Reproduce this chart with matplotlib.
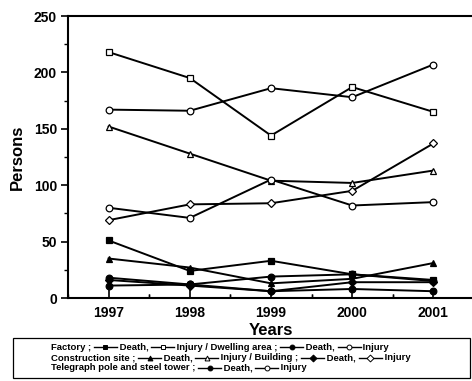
import matplotlib
matplotlib.use("Agg")
import matplotlib.pyplot as plt
from matplotlib.lines import Line2D
from matplotlib.patches import Rectangle

plt.rcParams["font.family"] = ["Liberation Sans", "DejaVu Sans"]
plt.rcParams["font.weight"] = "bold"

years = [1997, 1998, 1999, 2000, 2001]

factory_death = [51, 24, 33, 21, 16]
factory_injury = [218, 195, 144, 187, 165]
dwelling_death = [18, 12, 19, 21, 15]
dwelling_injury = [167, 166, 186, 178, 207]
construction_death = [35, 27, 13, 17, 31]
construction_injury = [152, 128, 104, 102, 113]
building_death = [16, 11, 6, 14, 14]
building_injury = [69, 83, 84, 95, 137]
telegraph_death = [11, 12, 6, 8, 6]
telegraph_injury = [80, 71, 105, 82, 85]

series = [
    (factory_death, "s", True),
    (factory_injury, "s", False),
    (dwelling_death, "o", True),
    (dwelling_injury, "o", False),
    (construction_death, "^", True),
    (construction_injury, "^", False),
    (building_death, "D", True),
    (building_injury, "D", False),
    (telegraph_death, "o", True),
    (telegraph_injury, "o", False),
]

W, H = 472, 381
fig = plt.figure(figsize=(W / 100, H / 100), dpi=100)
ax = fig.add_axes([68 / W, 1 - 298 / H, 406 / W, 282 / H])

for vals, m, filled in series:
    ax.plot(years, vals, color="black", lw=1.4, marker=m,
            ms=4.8 if m != "D" else 4,
            mfc="black" if filled else "white", mec="black", mew=0.9)

ax.set_xlim(1996.5, 2001.5)
ax.set_ylim(0, 250)
ax.set_xticks(years)
ax.set_xticks([1996.5 + i for i in range(6)] + [1997.5 + i for i in range(4)], minor=True)
ax.set_yticks(range(0, 251, 50))
ax.set_yticks(range(25, 250, 50), minor=True)
ax.tick_params(axis="x", which="major", direction="in", length=6, width=1.2,
               labelsize=10, pad=6)
ax.tick_params(axis="x", which="minor", direction="in", length=3, width=1)
ax.tick_params(axis="y", which="major", direction="out", length=5, width=1.2,
               labelsize=10, pad=3)
ax.tick_params(axis="y", which="minor", direction="out", length=3, width=1)
for lab in ax.get_xticklabels() + ax.get_yticklabels():
    lab.set_fontweight("bold")
for sp in ax.spines.values():
    sp.set_linewidth(1.5)

ax.set_xlabel("Years", fontsize=12, fontweight="bold", labelpad=2)
ax.set_ylabel("Persons", fontsize=12, fontweight="bold", labelpad=6)

# legend box drawn in figure pixels
fig.add_artist(Rectangle((13 / W, 1 - 378 / H), 457 / W, 40 / H,
                         transform=fig.transFigure, fill=False, lw=0.9,
                         edgecolor="black"))

rows = [
    (347, ["Factory ; ", ("s", True), " Death, ", ("s", False),
           " Injury / Dwelling area ; ", ("o", True), " Death, ", ("o", False), " Injury"]),
    (358, ["Construction site ; ", ("^", True), " Death, ", ("^", False),
           " Injury / Building ; ", ("D", True), " Death, ", ("D", False), " Injury"]),
    (368, ["Telegraph pole and steel tower ; ", ("o", True), " Death, ",
           ("o", False), " Injury"]),
]

fig.canvas.draw()
renderer = fig.canvas.get_renderer()
for ypix, items in rows:
    x = 51
    yf = 1 - ypix / H
    for it in items:
        if isinstance(it, str):
            t = fig.text(x / W, yf, it, fontsize=6.8, fontweight="bold",
                         va="center", ha="left")
            x += t.get_window_extent(renderer).width
        else:
            m, filled = it
            hw = 23
            fig.add_artist(Line2D([x / W, (x + hw) / W], [yf, yf],
                                  transform=fig.transFigure, color="black", lw=1))
            fig.add_artist(Line2D([(x + hw / 2) / W], [yf],
                                  transform=fig.transFigure, marker=m, ms=3.5,
                                  mfc="black" if filled else "white",
                                  mec="black", mew=0.7, linestyle="none"))
            x += hw

fig.savefig("out.png", dpi=100)
